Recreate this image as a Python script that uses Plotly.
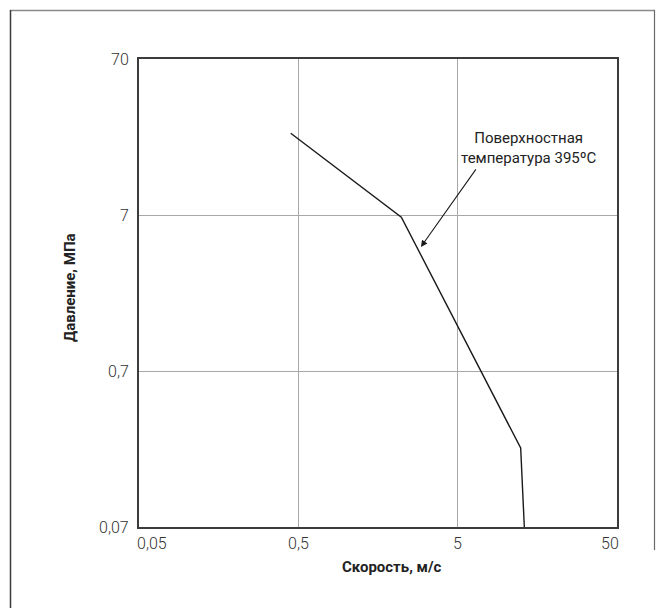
import math
import plotly.graph_objects as go

# Curve: pressure vs. flow velocity (log-log)
velocity = [0.448, 2.215, 12.43, 13.1]       # м/с
pressure = [23.4, 6.78, 0.2245, 0.07]        # МПа

x_ticks = [0.05, 0.5, 5, 50]
x_tick_text = ["0,05", "0,5", "5", "50"]
y_ticks = [0.07, 0.7, 7, 70]
y_tick_text = ["0,07", "0,7", "7", "70"]

x_title = "Скорость, м/с"
y_title = "Давление, МПа"
note_text = "Поверхностная<br>температура 395ºC"
note_point = (2.94, 4.37)   # where the arrow points on the curve

W, H = 662, 608
ML, MR, MT, MB = 139, 45, 59, 81
PW, PH = W - ML - MR, H - MT - MB

TICK_FONT = dict(family="Roboto", size=16, color="#333333", weight=300)
TITLE_FONT = dict(family="Roboto", size=15, color="#222222", weight=700)
NOTE_FONT = dict(family="Roboto", size=15, color="#222222", weight=400)

fig = go.Figure()
fig.add_trace(go.Scatter(
    x=velocity, y=pressure, mode="lines",
    line=dict(color="#1a1a1a", width=1.4),
    hoverinfo="skip", showlegend=False,
))

axis_common = dict(
    type="log", tickmode="array", showticklabels=False,
    showgrid=True, gridcolor="#a8a8a8", gridwidth=1,
    showline=True, mirror=True, linecolor="#3c3c3c", linewidth=2,
    ticks="", zeroline=False,
)
fig.update_xaxes(range=[math.log10(x_ticks[0]), math.log10(x_ticks[-1])],
                 tickvals=x_ticks, **axis_common)
fig.update_yaxes(range=[math.log10(y_ticks[0]), math.log10(y_ticks[-1])],
                 tickvals=y_ticks, **axis_common)


def px_x(p):
    return (p - ML) / PW


def px_y(p):
    return (H - MB - p) / PH


annotations = []
# x tick labels: outer ones aligned inward
x_anchors = ["left", "center", "center", "right"]
x_shift = [-4, 0, 0, 4]
for v, t, a, s in zip(x_ticks, x_tick_text, x_anchors, x_shift):
    annotations.append(dict(
        x=math.log10(v), y=0, xref="x", yref="paper", text=t,
        showarrow=False, xanchor=a, yanchor="top", yshift=-5, xshift=s,
        font=TICK_FONT,
    ))
for v, t in zip(y_ticks, y_tick_text):
    annotations.append(dict(
        x=0, y=math.log10(v), xref="paper", yref="y", text=t,
        showarrow=False, xanchor="right", yanchor="middle", xshift=-8,
        font=TICK_FONT,
    ))
# axis titles
annotations.append(dict(
    x=px_x(392), y=px_y(567), xref="paper", yref="paper",
    text="<b>" + x_title + "</b>",
    showarrow=False, xanchor="center", yanchor="middle",
    font=TITLE_FONT,
))
annotations.append(dict(
    x=px_x(70), y=px_y(288), xref="paper", yref="paper",
    text="<b>" + y_title + "</b>", textangle=-90,
    showarrow=False, xanchor="center", yanchor="middle",
    font=TITLE_FONT,
))
# callout with arrow
annotations.append(dict(
    x=math.log10(note_point[0]), y=math.log10(note_point[1]), xref="x", yref="y",
    text="", showarrow=True, arrowhead=2, arrowsize=1.2, arrowwidth=1.1,
    arrowcolor="#1a1a1a", ax=56, ay=-79, standoff=0,
))
annotations.append(dict(
    x=px_x(529), y=px_y(148), xref="paper", yref="paper",
    text=note_text, showarrow=False, xanchor="center", yanchor="middle",
    align="center", font=NOTE_FONT,
))

# outer frame of the figure panel
fig.add_shape(type="line", xref="paper", yref="paper",
              x0=px_x(10), y0=px_y(10.5), x1=px_x(655), y1=px_y(10.5),
              line=dict(color="#8a8a8a", width=1.5))
fig.add_shape(type="line", xref="paper", yref="paper",
              x0=px_x(10.5), y0=px_y(10), x1=px_x(10.5), y1=px_y(H + 5),
              line=dict(color="#3a3a3a", width=1.5))
fig.add_shape(type="line", xref="paper", yref="paper",
              x0=px_x(654.5), y0=px_y(10), x1=px_x(654.5), y1=px_y(550),
              line=dict(color="#6a6a6a", width=1.2))

fig.update_layout(
    width=W, height=H,
    margin=dict(l=ML, r=MR, t=MT, b=MB),
    paper_bgcolor="white", plot_bgcolor="white",
    annotations=annotations,
    showlegend=False,
)

fig.write_html("out.html")
